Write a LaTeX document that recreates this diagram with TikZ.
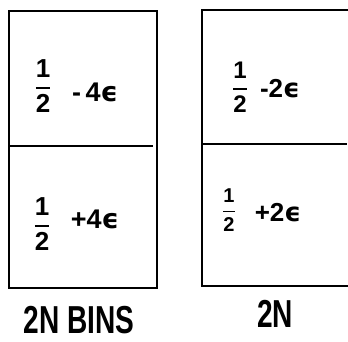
\documentclass[tikz,border=0pt]{standalone}
\usepackage{amsmath}
\usepackage{fontspec}
\setmainfont{Liberation Sans}
\newfontfamily\dvfont{DejaVu Sans}
\newcommand{\eps}{{\dvfont\bfseries ϵ}}
\newcommand{\halffrac}[1]{$\genfrac{}{}{#1}{0}{\mbox{\bfseries 1}}{\mbox{\bfseries 2}}$}
\begin{document}
\begin{tikzpicture}[x=1pt,y=-1pt,
  box/.style={line width=1.6pt},
  divider/.style={line width=2.8pt},
  val/.style={inner sep=0pt,anchor=center},
  lab/.style={inner sep=0pt,anchor=center,xscale=0.72,font=\fontsize{39}{41}\selectfont\bfseries}]
\useasboundingbox (0,0) rectangle (348,341);
% left box
\draw[box] (9,11) rectangle (157,288);
\draw[divider] (9,146) -- (153,146);
% right box (open on the right)
\draw[box] (348,10) -- (202,10) -- (202,286) -- (348,286);
\draw[divider] (202,144) -- (347,144);
% left values
\node[val,font=\fontsize{26}{28}\selectfont] (f1) at (43,86) {\halffrac{2pt}};
\node[val,font=\fontsize{27}{29}\selectfont\bfseries] (t1) at (95,92) {-\,4\eps};
\node[val,font=\fontsize{26}{28}\selectfont] (f2) at (42,224) {\halffrac{2pt}};
\node[val,font=\fontsize{27}{29}\selectfont\bfseries] (t2) at (95,219) {+4\eps};
% right values
\node[val,font=\fontsize{24}{26}\selectfont] (f3) at (240,87) {\halffrac{1.8pt}};
\node[val,font=\fontsize{26}{28}\selectfont\bfseries] (t3) at (280,89) {-2\eps};
\node[val,font=\fontsize{20}{22}\selectfont] (f4) at (229,210) {\halffrac{1.6pt}};
\node[val,font=\fontsize{26}{28}\selectfont\bfseries] (t4) at (278,213) {+2\eps};
% labels
\node[lab] (l1) at (79,320) {2N BINS};
\node[lab] (l2) at (275,314) {2N};
\end{tikzpicture}
\end{document}
